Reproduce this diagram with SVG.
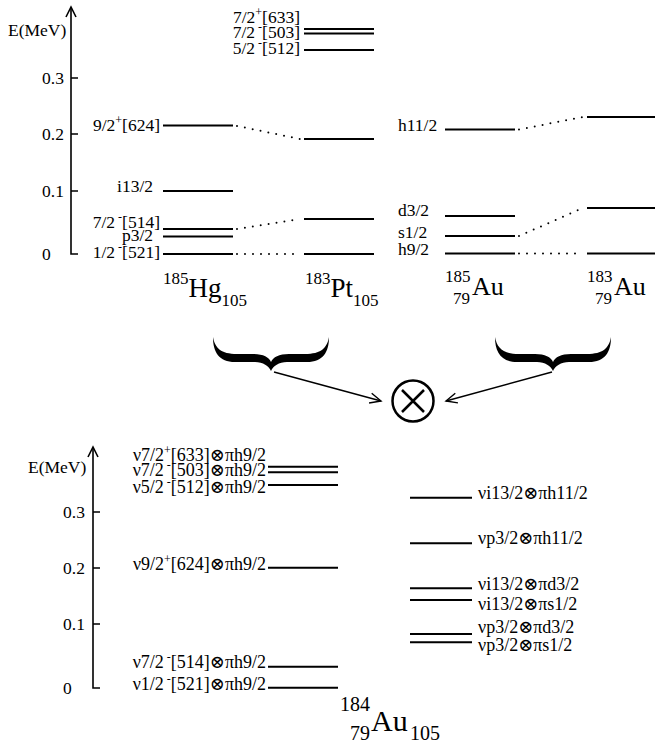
<svg xmlns="http://www.w3.org/2000/svg" width="655" height="744" viewBox="0 0 655 744" font-family="'Liberation Serif', 'Times New Roman', 'DejaVu Serif', serif">
<style>
text{font-family:'Liberation Serif','Times New Roman','DejaVu Serif',serif}
.t{font-size:17.5px;fill:#000}
.b{font-size:18px}
.s{font-size:12px}
.big{font-size:27px}
.sm{font-size:17px}
.lv{stroke:#000;stroke-width:2;fill:none}
.ax{stroke:#000;stroke-width:1.6;fill:none}
.dot{stroke:#000;stroke-width:2;stroke-dasharray:0 8;stroke-linecap:round;fill:none}
.arr{stroke:#000;stroke-width:1.4;fill:none;marker-end:url(#ah)}
</style>
<defs>
<marker id="ah" markerWidth="14" markerHeight="12" refX="12" refY="6" orient="auto" markerUnits="userSpaceOnUse">
<path d="M1,1 L12,6 L1,11" fill="none" stroke="#000" stroke-width="1.4"/>
</marker>
<path id="brace" d="M-58,0 C-58,15 -52,25 -36,25 L-16,25 C-8,25 -2,29 0,34 C2,29 8,25 16,25 L36,25 C52,25 58,15 58,0 C56,11 50,17 34,17 L18,17 C8,17 2,20 0,25 C-2,20 -8,17 -18,17 L-34,17 C-50,17 -56,11 -58,0 Z" fill="#000"/>
</defs>

<!-- Top axis -->
<g id="axis-top">
<path class="ax" d="M71,8 L71,254 L78,254 M71,191 H78 M71,134 H78 M71,78 H78"/>
<path class="ax" d="M66,17 L71,7 L76,17"/>
<text class="t" x="8" y="36">E(MeV)</text>
<text class="t" x="42" y="84">0.3</text>
<text class="t" x="42" y="140">0.2</text>
<text class="t" x="42" y="197">0.1</text>
<text class="t" x="42" y="260">0</text>
</g>

<!-- 185Hg levels -->
<g id="hg185">
<path class="lv" d="M163,125.5 H233 M163,191 H233 M163,229 H233 M163,236.5 H233 M163,254 H233"/>
<text class="t" x="160" y="131" text-anchor="end">9/2<tspan class="s" dy="-7">+</tspan><tspan dy="7">[624]</tspan></text>
<text class="t" x="153" y="192" text-anchor="end">i13/2</text>
<text class="t" x="160" y="228" text-anchor="end">7/2<tspan class="s" dx="3" dy="-7">-</tspan><tspan dy="7">[514]</tspan></text>
<text class="t" x="153" y="241" text-anchor="end">p3/2</text>
<text class="t" x="160" y="258" text-anchor="end">1/2<tspan class="s" dx="3" dy="-7">-</tspan><tspan dy="7">[521]</tspan></text>
<text class="t" x="163" y="284"><tspan class="sm">185</tspan><tspan class="big" dy="13">Hg</tspan><tspan class="sm" dy="9">105</tspan></text>
</g>

<!-- 183Pt levels -->
<g id="pt183">
<path class="lv" d="M304,29 H374 M304,33.5 H374 M304,50 H374 M304,139 H374 M304,219 H374 M304,254 H374"/>
<text class="t" x="300" y="23" text-anchor="end">7/2<tspan class="s" dy="-7">+</tspan><tspan dy="7">[633]</tspan></text>
<text class="t" x="300" y="38" text-anchor="end">7/2<tspan class="s" dx="3" dy="-7">-</tspan><tspan dy="7">[503]</tspan></text>
<text class="t" x="300" y="54" text-anchor="end">5/2<tspan class="s" dx="3" dy="-7">-</tspan><tspan dy="7">[512]</tspan></text>
<text class="t" x="305" y="284"><tspan class="sm">183</tspan><tspan class="big" dy="13">Pt</tspan><tspan class="sm" dy="9">105</tspan></text>
</g>

<!-- 185Au levels -->
<g id="au185">
<path class="lv" d="M445,129.5 H515 M445,216 H515 M445,236 H515 M445,253.5 H515"/>
<text class="t" x="398" y="131">h11/2</text>
<text class="t" x="398" y="216">d3/2</text>
<text class="t" x="398" y="238">s1/2</text>
<text class="t" x="398" y="255">h9/2</text>
<text class="t sm" x="445" y="282">185</text>
<text class="t sm" x="470" y="304" text-anchor="end">79</text>
<text class="t" x="472" y="295" style="font-size:26px">Au</text>
</g>

<!-- 183Au levels -->
<g id="au183">
<path class="lv" d="M587,117 H655 M587,208 H655 M587,253.5 H655"/>
<text class="t sm" x="587" y="282">183</text>
<text class="t sm" x="612" y="304" text-anchor="end">79</text>
<text class="t" x="614" y="295" style="font-size:26px">Au</text>
</g>

<!-- Braces -->
<g id="brace-left"><use href="#brace" x="271" y="337"/></g>
<g id="brace-right"><use href="#brace" x="553" y="337"/></g>

<!-- Tensor product symbol -->
<g id="otimes">
<circle cx="413" cy="401" r="20.5" fill="none" stroke="#000" stroke-width="2.5"/>
<path d="M402,390 L424,412 M424,390 L402,412" stroke="#000" stroke-width="2.5"/>
</g>

<!-- Bottom axis -->
<g id="axis-bottom">
<path class="ax" d="M93,448 L93,688 L100,688 M93,624 H100 M93,568 H100 M93,512 H100"/>
<path class="ax" d="M88,457 L93,447 L98,457"/>
<text class="t" x="28" y="473">E(MeV)</text>
<text class="t" x="63" y="518">0.3</text>
<text class="t" x="63" y="574">0.2</text>
<text class="t" x="63" y="630">0.1</text>
<text class="t" x="63" y="694">0</text>
</g>

<!-- 184Au levels (left column) -->
<g id="au184-left">
<path class="lv" d="M268,466.7 H338 M268,472.3 H338 M268,485 H338 M268,567.7 H338 M268,666.7 H338 M268,687.7 H338"/>
<text class="t b" x="266" y="461" text-anchor="end">ν7/2<tspan class="s" dy="-7">+</tspan><tspan dy="7">[633]⊗πh9/2</tspan></text>
<text class="t b" x="266" y="476" text-anchor="end">ν7/2<tspan class="s" dx="3" dy="-7">-</tspan><tspan dy="7">[503]⊗πh9/2</tspan></text>
<text class="t b" x="266" y="493" text-anchor="end">ν5/2<tspan class="s" dx="3" dy="-7">-</tspan><tspan dy="7">[512]⊗πh9/2</tspan></text>
<text class="t b" x="266" y="570" text-anchor="end">ν9/2<tspan class="s" dy="-7">+</tspan><tspan dy="7">[624]⊗πh9/2</tspan></text>
<text class="t b" x="266" y="668" text-anchor="end">ν7/2<tspan class="s" dx="3" dy="-7">-</tspan><tspan dy="7">[514]⊗πh9/2</tspan></text>
<text class="t b" x="266" y="690" text-anchor="end">ν1/2<tspan class="s" dx="3" dy="-7">-</tspan><tspan dy="7">[521]⊗πh9/2</tspan></text>
</g>

<!-- 184Au levels (right column) -->
<g id="au184-right">
<path class="lv" d="M410,497.7 H472 M410,543.3 H472 M410,588.3 H472 M410,600 H472 M410,634 H472 M410,642.3 H472"/>
<text class="t b" x="478" y="499">νi13/2⊗πh11/2</text>
<text class="t b" x="478" y="544">νp3/2⊗πh11/2</text>
<text class="t b" x="478" y="590">νi13/2⊗πd3/2</text>
<text class="t b" x="478" y="610">νi13/2⊗πs1/2</text>
<text class="t b" x="478" y="633">νp3/2⊗πd3/2</text>
<text class="t b" x="478" y="651">νp3/2⊗πs1/2</text>
</g>

<!-- 184Au label -->
<g id="au184-name">
<text class="t" x="340" y="711" style="font-size:20px">184</text>
<text class="t" x="370" y="740" text-anchor="end" style="font-size:20px">79</text>
<text class="t" x="371" y="731" style="font-size:30px">Au</text>
<text class="t" x="410" y="740" style="font-size:20px">105</text>
</g>

<!-- Connectors -->
<g id="connectors">
<path class="dot" d="M237,126 L300,139"/>
<path class="dot" d="M237,229 L300,219"/>
<path class="dot" d="M237,254 L300,254"/>
<path class="dot" d="M519,129.5 L583,117"/>
<path class="dot" d="M519,236 L583,208"/>
<path class="dot" d="M519,253.5 L583,253.5"/>
<path class="arr" d="M274,372 L381,401"/>
<path class="arr" d="M552,372 L446,401"/>
</g>
</svg>
